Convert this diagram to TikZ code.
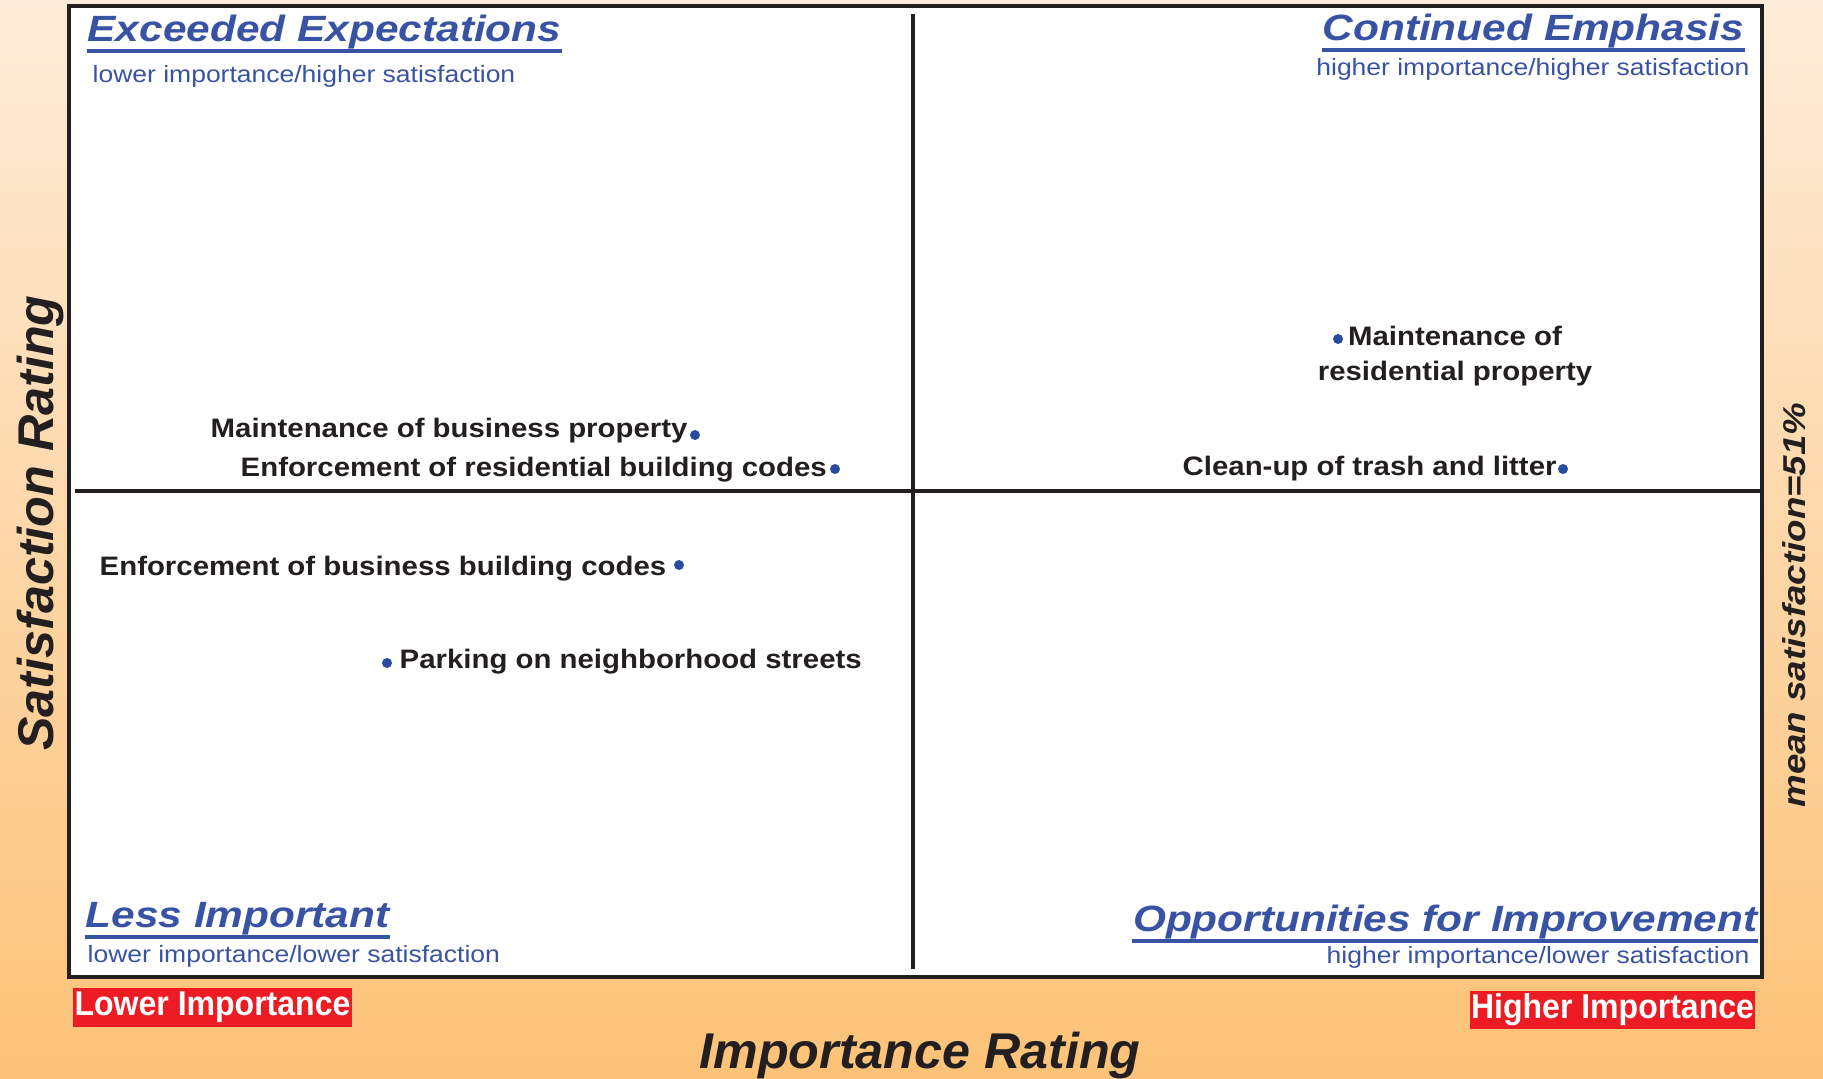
\documentclass[tikz,border=0pt]{standalone}
\usepackage{fontspec}
\setmainfont{Liberation Sans}
\newfontfamily\wideface[FakeStretch=1.16]{Liberation Sans}
\newfontfamily\subface[FakeStretch=1.125]{Liberation Sans}
\newfontfamily\lblface[FakeStretch=1.1]{Liberation Sans}
\newfontfamily\tagface[FakeStretch=0.93]{Liberation Sans}
\definecolor{ink}{HTML}{231F20}
\definecolor{qblue}{HTML}{3953A4}
\definecolor{dotblue}{HTML}{2B4BA3}
\definecolor{tagred}{HTML}{ED1C24}
\definecolor{bgtop}{HTML}{FDECD9}
\definecolor{bgbot}{HTML}{FCC277}
\begin{document}
\begin{tikzpicture}[x=0.1mm,y=-0.1mm,
  frame/.style={line width=0.4mm,ink},
  uline/.style={line width=0.4mm,qblue},
  ttl/.style={inner sep=0,text=qblue,font=\wideface\fontsize{10.4}{12}\selectfont\bfseries\itshape},
  sub/.style={inner sep=0,text=qblue,font=\subface\fontsize{6.7}{8}\selectfont},
  lbl/.style={inner sep=0,text=ink,font=\lblface\fontsize{7.6}{9.7}\selectfont\bfseries},
  pt/.style={circle,fill=dotblue,inner sep=0,minimum size=1mm},
  tag/.style={fill=tagred,text=white,inner sep=0,font=\tagface\fontsize{9.8}{11}\selectfont\bfseries},
  axis/.style={inner sep=0,text=ink,font=\fontsize{14.3}{16}\selectfont\bfseries\itshape}]
\useasboundingbox (0,0) rectangle (1823,1078);
\shade[top color=bgtop,bottom color=bgbot] (0,0) rectangle (1823,1078);

% quadrant frame
\draw[frame,fill=white] (69,5.5) rectangle (1762,977);
\draw[frame] (913,14)--(913,969);
\draw[frame] (75,491)--(1762,491);

% quadrant titles
\node[ttl,anchor=base west] (ee) at (87,41) {Exceeded Expectations};
\node[sub,anchor=base west] (ee-sub) at (92,82) {lower importance/higher satisfaction};
\node[ttl,anchor=base east] (ce) at (1745,40) {Continued Emphasis};
\node[sub,anchor=base east] (ce-sub) at (1750,75) {higher importance/higher satisfaction};
\node[ttl,anchor=base west] (li) at (85,927) {Less Important};
\node[sub,anchor=base west] (li-sub) at (87,962) {lower importance/lower satisfaction};
\node[ttl,anchor=base east] (oi) at (1758,931) {Opportunities for Improvement};
\node[sub,anchor=base east] (oi-sub) at (1750,963) {higher importance/lower satisfaction};
\foreach \t in {ee,ce,li,oi}{
\draw[uline] ([yshift=-1mm]\t.base west)--([yshift=-1mm]\t.base east);
}

% rated items
\node[lbl,anchor=base west] (mbp) at (210,437) {Maintenance of business property};
\node[lbl,anchor=base west] (erc) at (240,476) {Enforcement of residential building codes};
\node[lbl,anchor=base west] (ebc) at (99,575) {Enforcement of business building codes};
\node[lbl,anchor=base west] (pns) at (399,668) {Parking on neighborhood streets};
\node[lbl,anchor=base,align=center] (mrp) at (1455,380) {Maintenance of\\residential property};
\node[lbl,anchor=base west] (ctl) at (1182,475) {Clean-up of trash and litter};
\foreach \n/\x/\y in {mbp/695/435,erc/835/469,ebc/679/565,pns/387/663,mrp/1338/339,ctl/1563/469}{
\node[pt] (\n-dot) at (\x,\y) {};
}

% axes
\node[tag,minimum width=27.9mm,minimum height=3.9mm] (lo) at (212.5,1007.5) {Lower Importance};
\node[tag,minimum width=28.5mm,minimum height=3.8mm] (hi) at (1612.5,1010) {Higher Importance};
\node[axis,anchor=base] (imp) at (920,1068) {Importance Rating};
\node[axis,anchor=base,rotate=90] (sat) at (53,523) {Satisfaction Rating};
\node[axis,anchor=base,rotate=90,font=\wideface\fontsize{9}{10}\selectfont\bfseries\itshape] (mean) at (1805,605) {mean satisfaction=51\%};
\end{tikzpicture}
\end{document}
